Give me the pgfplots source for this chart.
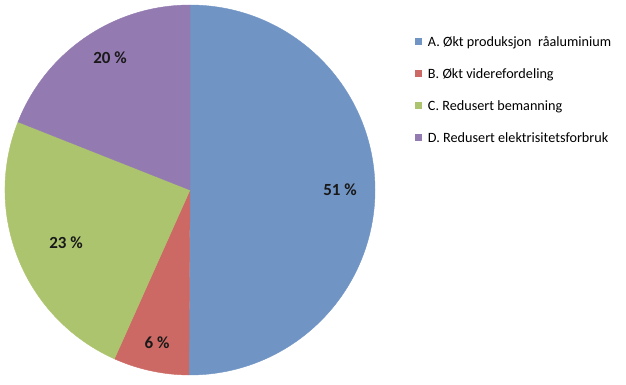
\documentclass[border=0pt]{standalone}
\usepackage{fontspec}
\setmainfont{Carlito}
\usepackage{pgfplots}
\usepackage{pgfplotstable}
\pgfplotsset{compat=1.18}
\definecolor{pieA}{RGB}{112,148,196}
\definecolor{pieB}{RGB}{204,105,100}
\definecolor{pieC}{RGB}{172,196,110}
\definecolor{pieD}{RGB}{147,122,176}
\pgfplotstableread{
value
50.1
6.6
24.3
19.0
}\piedata
\begin{document}
\begin{tikzpicture}
\pgfplotstablegetelem{0}{value}\of\piedata \let\vA\pgfplotsretval
\pgfplotstablegetelem{1}{value}\of\piedata \let\vB\pgfplotsretval
\pgfplotstablegetelem{2}{value}\of\piedata \let\vC\pgfplotsretval
\pgfplotstablegetelem{3}{value}\of\piedata \let\vD\pgfplotsretval
\pgfmathsetmacro\aA{90}
\pgfmathsetmacro\aB{\aA-3.6*\vA}
\pgfmathsetmacro\aC{\aB-3.6*\vB}
\pgfmathsetmacro\aD{\aC-3.6*\vC}
\pgfmathsetmacro\aE{\aD-3.6*\vD}
\useasboundingbox (-5bp,-10bp) rectangle (621bp,375bp);
\begin{axis}[
  scale only axis, width=370bp, height=370bp,
  xmin=-1, xmax=1, ymin=-1, ymax=1,
  hide axis, clip=false,
  anchor=south west, at={(0,0)},
  legend image code/.code={\fill[#1] (0bp,-3.5bp) rectangle (7bp,3.5bp);},
  legend style={draw=none, fill=none, anchor=west,
    at={(axis description cs:1.1081,0.7703)},
    inner sep=0pt, outer sep=0pt, row sep=21bp, column sep=6bp,
    font=\fontsize{14.2bp}{17bp}\selectfont,
    nodes={inner sep=0pt, text height=10bp, text depth=1bp}},
  legend cell align=left,
]
\addlegendimage{fill=pieA, draw=none}
\addlegendentry{A. Økt produksjon\ \ råaluminium}
\addlegendimage{fill=pieB, draw=none}
\addlegendentry{B. Økt viderefordeling}
\addlegendimage{fill=pieC, draw=none}
\addlegendentry{C. Redusert bemanning}
\addlegendimage{fill=pieD, draw=none}
\addlegendentry{D. Redusert elektrisitetsforbruk}
\filldraw[pieA, line width=0.4bp] (axis cs:0,0) -- (axis cs:{cos(\aA)},{sin(\aA)}) arc[start angle=\aA, end angle=\aB, radius=185bp] -- cycle;
\filldraw[pieB, line width=0.4bp] (axis cs:0,0) -- (axis cs:{cos(\aB)},{sin(\aB)}) arc[start angle=\aB, end angle=\aC, radius=185bp] -- cycle;
\filldraw[pieC, line width=0.4bp] (axis cs:0,0) -- (axis cs:{cos(\aC)},{sin(\aC)}) arc[start angle=\aC, end angle=\aD, radius=185bp] -- cycle;
\filldraw[pieD, line width=0.4bp] (axis cs:0,0) -- (axis cs:{cos(\aD)},{sin(\aD)}) arc[start angle=\aD, end angle=\aE, radius=185bp] -- cycle;
\begin{scope}[every node/.style={font=\bfseries\fontsize{17bp}{20bp}\selectfont, text=black!90}]
\node at (axis cs:0.811,0) {51 \%};
\node at (axis cs:-0.178,-0.827) {6 \%};
\node at (axis cs:-0.670,-0.286) {23 \%};
\node at (axis cs:-0.432,0.714) {20 \%};
\end{scope}
\end{axis}
\end{tikzpicture}
\end{document}
